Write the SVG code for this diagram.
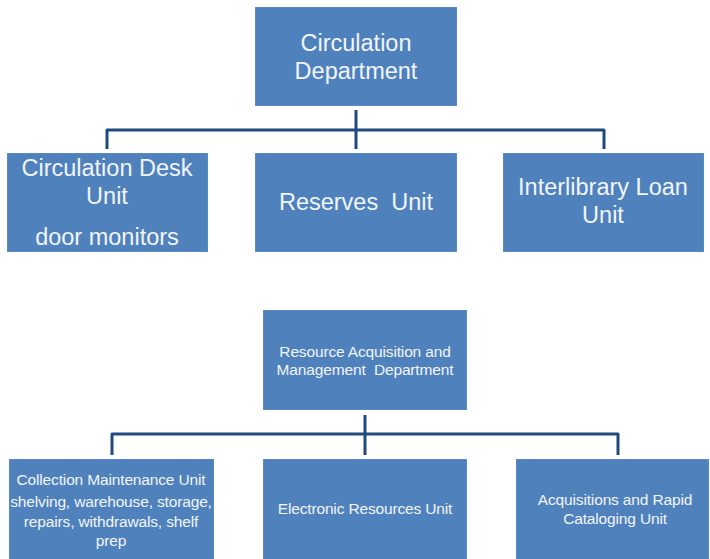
<svg xmlns="http://www.w3.org/2000/svg" width="710" height="559" viewBox="0 0 710 559">
<style>
.box{fill:#4F81BD;stroke:#5A8AC6;stroke-width:1}
.big{font-family:"Liberation Sans",Arial,sans-serif;font-size:23.5px;fill:#F2F5FA;text-anchor:middle}
.sm{font-family:"Liberation Sans",Arial,sans-serif;font-size:15.5px;fill:#F2F5FA;text-anchor:middle;letter-spacing:-0.15px}
.conn{fill:none;stroke:#1F4A7E;stroke-width:3;stroke-linejoin:round}
</style>
<rect width="710" height="559" fill="#FFFFFF"/>
<g id="connectors">
<path class="conn" d="M356 110 V149 M107 149 V130 H604 V149"/>
<path class="conn" d="M365 415 V455 M112 455 V434 H618 V455"/>
</g>
<g id="circulation-department">
<rect class="box" x="255.5" y="7.5" width="201" height="98"/>
<text class="big" x="356" y="51">Circulation</text>
<text class="big" x="356" y="79">Department</text>
</g>
<g id="circulation-desk-unit">
<rect class="box" x="7.5" y="153.5" width="200" height="98"/>
<text class="big" x="107" y="176">Circulation Desk</text>
<text class="big" x="107" y="204">Unit</text>
<text class="big" x="107" y="245">door monitors</text>
</g>
<g id="reserves-unit">
<rect class="box" x="255.5" y="153.5" width="201" height="98"/>
<text class="big" x="356" y="210" xml:space="preserve">Reserves  Unit</text>
</g>
<g id="interlibrary-loan-unit">
<rect class="box" x="503.5" y="153.5" width="200" height="98"/>
<text class="big" x="603" y="195">Interlibrary Loan</text>
<text class="big" x="603" y="223">Unit</text>
</g>
<g id="resource-acquisition-department">
<rect class="box" x="263.5" y="310.5" width="203" height="99"/>
<text class="sm" x="365" y="357">Resource Acquisition and</text>
<text class="sm" x="365" y="375" xml:space="preserve">Management  Department</text>
</g>
<g id="collection-maintenance-unit">
<rect class="box" x="9.5" y="459.5" width="204" height="102"/>
<text class="sm" x="111" y="485">Collection Maintenance Unit</text>
<text class="sm" x="111" y="507">shelving, warehouse, storage,</text>
<text class="sm" x="111" y="527">repairs, withdrawals, shelf</text>
<text class="sm" x="111" y="546">prep</text>
</g>
<g id="electronic-resources-unit">
<rect class="box" x="263.5" y="459.5" width="203" height="102"/>
<text class="sm" x="365" y="514">Electronic Resources Unit</text>
</g>
<g id="acquisitions-rapid-cataloging-unit">
<rect class="box" x="516.5" y="459.5" width="192" height="102"/>
<text class="sm" x="615" y="505">Acquisitions and Rapid</text>
<text class="sm" x="615" y="524">Cataloging Unit</text>
</g>
</svg>
